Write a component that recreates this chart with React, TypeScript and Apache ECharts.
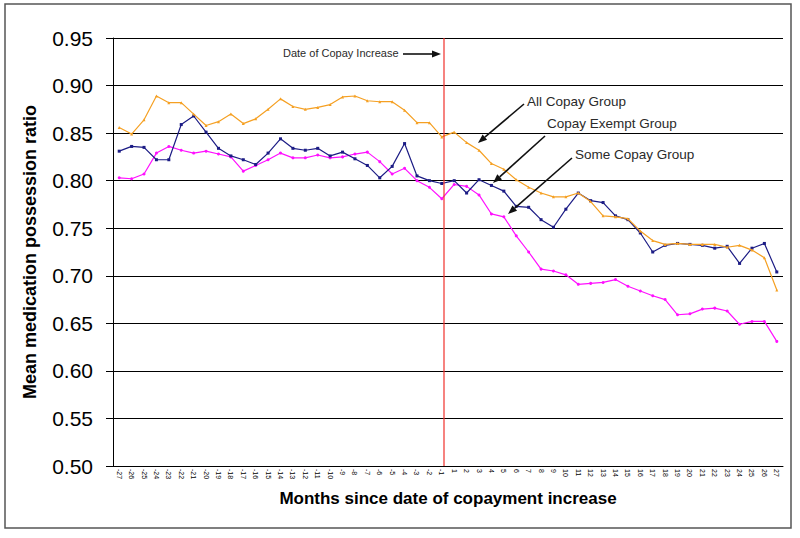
import React, { useEffect, useRef } from "react";
import * as echarts from "echarts";

const months: string[] = [
  "-27","-26","-25","-24","-23","-22","-21","-20","-19","-18","-17","-16","-15","-14",
  "-13","-12","-11","-10","-9","-8","-7","-6","-5","-4","-3","-2","-1",
  "1","2","3","4","5","6","7","8","9","10","11","12","13","14","15","16","17","18",
  "19","20","21","22","23","24","25","26","27",
];

const allCopay: number[] = [
  0.856, 0.849, 0.864, 0.889, 0.882, 0.882, 0.870, 0.858, 0.862, 0.870, 0.860, 0.865, 0.875, 0.886,
  0.878, 0.875, 0.877, 0.880, 0.888, 0.889, 0.884, 0.883, 0.883, 0.874, 0.861, 0.861, 0.846,
  0.851, 0.840, 0.832, 0.818, 0.812, 0.801, 0.793, 0.787, 0.783, 0.783, 0.787, 0.778, 0.763, 0.762,
  0.760, 0.747, 0.737, 0.733, 0.734, 0.733, 0.733, 0.733, 0.730, 0.732, 0.727, 0.719, 0.685,
];

const copayExempt: number[] = [
  0.831, 0.836, 0.835, 0.822, 0.822, 0.859, 0.868, 0.851, 0.834, 0.826, 0.822, 0.817, 0.829, 0.844,
  0.834, 0.832, 0.834, 0.826, 0.830, 0.823, 0.816, 0.803, 0.815, 0.839, 0.805, 0.800, 0.797,
  0.800, 0.787, 0.801, 0.795, 0.789, 0.773, 0.772, 0.759, 0.751, 0.770, 0.787, 0.779, 0.777, 0.763,
  0.759, 0.745, 0.725, 0.732, 0.734, 0.733, 0.732, 0.729, 0.731, 0.713, 0.729, 0.734, 0.704,
];

const someCopay: number[] = [
  0.803, 0.802, 0.807, 0.829, 0.836, 0.832, 0.829, 0.831, 0.828, 0.825, 0.810, 0.816, 0.822, 0.829,
  0.824, 0.824, 0.827, 0.824, 0.825, 0.828, 0.830, 0.820, 0.807, 0.813, 0.800, 0.793, 0.781,
  0.796, 0.794, 0.785, 0.765, 0.762, 0.742, 0.725, 0.707, 0.705, 0.701, 0.691, 0.692, 0.693, 0.696,
  0.689, 0.684, 0.679, 0.675, 0.659, 0.660, 0.665, 0.666, 0.663, 0.649, 0.652, 0.652, 0.631,
];

const seriesNames = ["All Copay Group", "Copay Exempt Group", "Some Copay Group"];
const seriesColors = ["#F5A023", "#1C1C85", "#FF10FF"];

const FONT = "Liberation Sans, Arial, sans-serif";

function arrow(x1: number, y1: number, x2: number, y2: number) {
  const a = Math.atan2(y2 - y1, x2 - x1);
  const L = 9, W = 3.5;
  const c = Math.cos(a), s = Math.sin(a);
  const bx = x2 - L * c, by = y2 - L * s;
  return [
    {
      type: "line",
      shape: { x1, y1, x2: bx, y2: by },
      style: { stroke: "#111", lineWidth: 1.6 },
      z: 100,
    },
    {
      type: "polygon",
      shape: {
        points: [
          [x2, y2],
          [bx + W * s, by - W * c],
          [bx - W * s, by + W * c],
        ],
      },
      style: { fill: "#111" },
      z: 100,
    },
  ];
}

export default function App() {
  const ref = useRef<HTMLDivElement>(null);

  useEffect(() => {
    if (!ref.current) return;
    const chart = echarts.init(ref.current, undefined, { renderer: "svg" });
    const data = [allCopay, copayExempt, someCopay];
    const symbols = ["triangle", "rect", "circle"];

    const textStyle = (t: string, x: number, y: number, size: number) => ({
      type: "text",
      x,
      y,
      style: {
        text: t,
        font: `${size}px ${FONT}`,
        fill: "#2a2a2a",
        textVerticalAlign: "middle",
      },
      z: 100,
    });

    chart.setOption({
      animation: false,
      backgroundColor: "#fff",
      grid: { left: 113, right: 17, top: 38, bottom: 72, containLabel: false },
      xAxis: {
        type: "category",
        data: months,
        boundaryGap: true,
        axisLine: { lineStyle: { color: "#000", width: 1 } },
        axisTick: { show: false },
        axisLabel: {
          interval: 0,
          rotate: -90,
          fontSize: 7,
          fontFamily: FONT,
          color: "#000",
          margin: 3,
        },
        name: "Months since date of copayment increase",
        nameLocation: "middle",
        nameGap: 24,
        nameTextStyle: { fontSize: 17, fontWeight: "bold", fontFamily: FONT, color: "#000" },
      },
      yAxis: {
        type: "value",
        min: 0.5,
        max: 0.95,
        interval: 0.05,
        axisLine: { show: true, lineStyle: { color: "#000", width: 1 } },
        axisTick: { show: true, length: 7, lineStyle: { color: "#000" } },
        axisLabel: {
          fontSize: 21,
          fontFamily: FONT,
          color: "#000",
          margin: 20,
          formatter: (v: number) => v.toFixed(2),
        },
        splitLine: { show: true, lineStyle: { color: "#000", width: 1 } },
        name: "Mean medication possession ratio",
        nameLocation: "middle",
        nameGap: 74,
        nameTextStyle: { fontSize: 18, fontWeight: "bold", fontFamily: FONT, color: "#000" },
      },
      series: data.map((d, i) => ({
        name: seriesNames[i],
        type: "line",
        data: d,
        symbol: symbols[i],
        symbolSize: 3,
        showSymbol: true,
        lineStyle: { color: seriesColors[i], width: 1.2 },
        itemStyle: { color: seriesColors[i] },
        z: 3 + (2 - i),
      })),
      graphic: [
        {
          type: "rect",
          shape: { x: 5, y: 4, width: 786, height: 524 },
          style: { fill: "none", stroke: "#555", lineWidth: 1.5 },
          z: 0,
        },
        {
          type: "line",
          shape: { x1: 444, y1: 38, x2: 444, y2: 466 },
          style: { stroke: "#F0302A", lineWidth: 1.2 },
          z: 90,
        },
        textStyle("Date of Copay Increase", 283, 53, 11),
        ...arrow(403, 54, 441, 54),
        textStyle("All Copay Group", 527, 101, 13.5),
        ...arrow(524, 104, 478, 143),
        textStyle("Copay Exempt Group", 547, 123, 13.5),
        ...arrow(545, 136, 493, 183),
        textStyle("Some Copay Group", 575, 154, 13.5),
        ...arrow(572, 158, 508, 214),
      ],
    });
    return () => chart.dispose();
  }, []);

  return (
    <div
      ref={ref}
      style={{ position: "fixed", left: 0, top: 0, width: 800, height: 538 }}
    />
  );
}
